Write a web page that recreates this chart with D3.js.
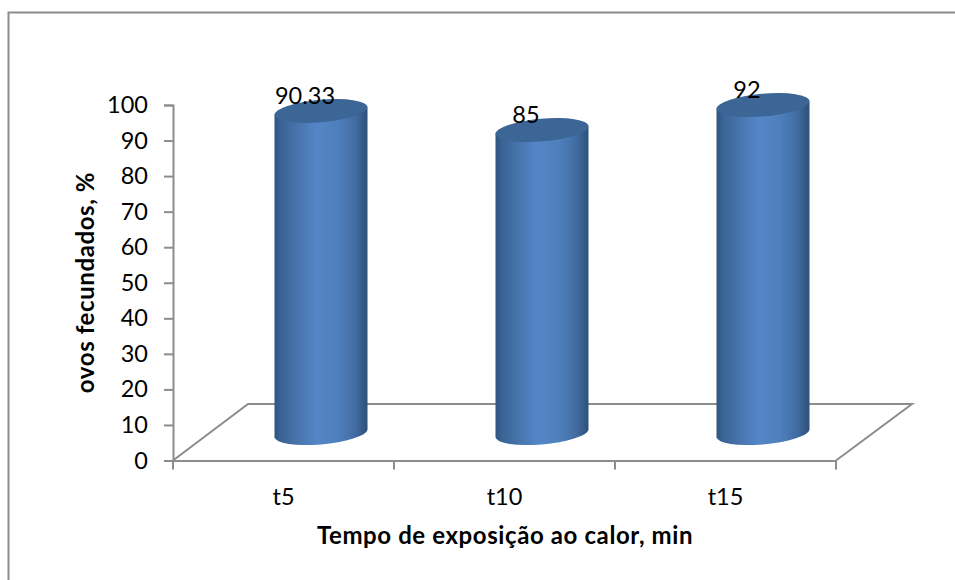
<!DOCTYPE html>
<html>
<head>
<meta charset="utf-8">
<script src="https://cdn.jsdelivr.net/npm/d3@7"></script>
<style>
  html, body { margin: 0; padding: 0; background: #fff; }
  svg { display: block; }
  text { font-family: Lato, "Noto Sans", sans-serif; fill: #000; }
</style>
</head>
<body>
<div id="chart"></div>
<script>
const categories = ["t5", "t10", "t15"];
const fertilized = [90.33, 85, 92];
const valueLabels = ["90.33", "85", "92"];
const yTicks = [0, 10, 20, 30, 40, 50, 60, 70, 80, 90, 100];
const xTitle = "Tempo de exposição ao calor, min";
const yTitle = "ovos fecundados, %";

const width = 955, height = 580;
const gray = "#8c8c8c";

const svg = d3.select("#chart").append("svg")
  .attr("width", width).attr("height", height);

// Gradient wrapped across each cylinder's visible side
const grad = svg.append("defs").append("linearGradient")
  .attr("id", "cylinderSide")
  .attr("x1", 0).attr("x2", 1).attr("y1", 0).attr("y2", 0);
[[0, "#2f5480"], [0.07, "#3a6495"], [0.25, "#4874ad"], [0.45, "#5486c7"],
 [0.68, "#4f80bd"], [0.87, "#416ca1"], [1, "#2e4f78"]]
  .forEach(([o, c]) => grad.append("stop").attr("offset", o).attr("stop-color", c));

// Chart area outline: only the top and left edges are drawn
svg.append("path")
  .attr("d", d3.line()([[8.5, 580], [8.5, 12.5], [955, 12.5]]))
  .attr("fill", "none").attr("stroke", gray).attr("stroke-width", 2);

// Front axes
const yFront = d3.scaleLinear().domain([0, 100]).range([460.5, 105]);
const xFront = d3.scaleBand().domain(categories).range([173, 836]);

// Cylinders stand on the middle of the floor, so their baseline is further back
const yBar = d3.scaleLinear().domain([0, 100]).range([433.5, 76.5]);
const xBar = d3.scalePoint().domain(categories).range([321, 763]);

// Floor parallelogram, receding from the front axis
const depthX = 75, depthY = 56.5;
const floor = svg.append("g").attr("fill", "none").attr("stroke", gray).attr("stroke-width", 2);
floor.append("path").attr("d", d3.line()([
  [xFront.range()[0], yFront(0)],
  [xFront.range()[0] + depthX, yFront(0) - depthY],
  [xFront.range()[1] + depthX + 1, yFront(0) - depthY],
  [xFront.range()[1], yFront(0)]
]));

// Value axis
const yAxis = svg.append("g").attr("transform", `translate(${xFront.range()[0]},0)`)
  .call(d3.axisLeft(yFront).tickValues(yTicks).tickFormat(d3.format("d")).tickSize(9).tickPadding(16));
// Category axis
const xAxis = svg.append("g").attr("transform", `translate(0,${yFront(0)})`)
  .call(d3.axisBottom(xFront).tickSize(0).tickPadding(28));

[yAxis, xAxis].forEach(a => {
  a.select(".domain").attr("stroke", gray).attr("stroke-width", 2);
  a.selectAll("line").attr("stroke", gray).attr("stroke-width", 2);
  a.selectAll("text").attr("font-family", "Lato").attr("font-size", 23.5).attr("fill", "#000");
});

// Category separators sit between the bands
xAxis.selectAll(".sep")
  .data(categories.map(c => xFront(c)).concat(xFront.range()[1]))
  .join("line")
  .attr("class", "sep")
  .attr("x1", d => d).attr("x2", d => d)
  .attr("y1", 0).attr("y2", 9)
  .attr("stroke", gray).attr("stroke-width", 2);

// Cylinders
const halfW = 46.5, rx = 46.7, ry = 11.3, tilt = -5, lean = 3.8;
const bars = svg.append("g").selectAll("g")
  .data(categories.map((c, i) => ({ c, v: fertilized[i], label: valueLabels[i] })))
  .join("g");

bars.append("path")
  .attr("fill", "url(#cylinderSide)")
  .attr("d", d => {
    const cx = xBar(d.c), top = yBar(d.v), base = yBar(0);
    return `M${cx - halfW},${top + lean}L${cx - halfW},${base + lean}` +
      `A${rx},${ry} ${tilt} 0 0 ${cx + halfW},${base - lean}` +
      `L${cx + halfW},${top - lean}Z`;
  });

bars.append("ellipse")
  .attr("rx", rx).attr("ry", ry).attr("fill", "#3c6695")
  .attr("transform", d => `translate(${xBar(d.c)},${yBar(d.v)}) rotate(${tilt})`);

bars.append("text")
  .attr("x", d => xBar(d.c) - 16)
  .attr("y", d => yBar(d.v) - 7)
  .attr("text-anchor", "middle")
  .attr("font-size", 23.5)
  .text(d => d.label);

// Axis titles
svg.append("text")
  .attr("x", 505).attr("y", 544)
  .attr("text-anchor", "middle")
  .attr("font-size", 24).attr("font-weight", 700)
  .attr("letter-spacing", 0.6)
  .text(xTitle);

svg.append("text")
  .attr("transform", "translate(94,282.5) rotate(-90)")
  .attr("text-anchor", "middle")
  .attr("font-size", 24).attr("font-weight", 700)
  .attr("letter-spacing", 0.6)
  .text(yTitle);
</script>
</body>
</html>
